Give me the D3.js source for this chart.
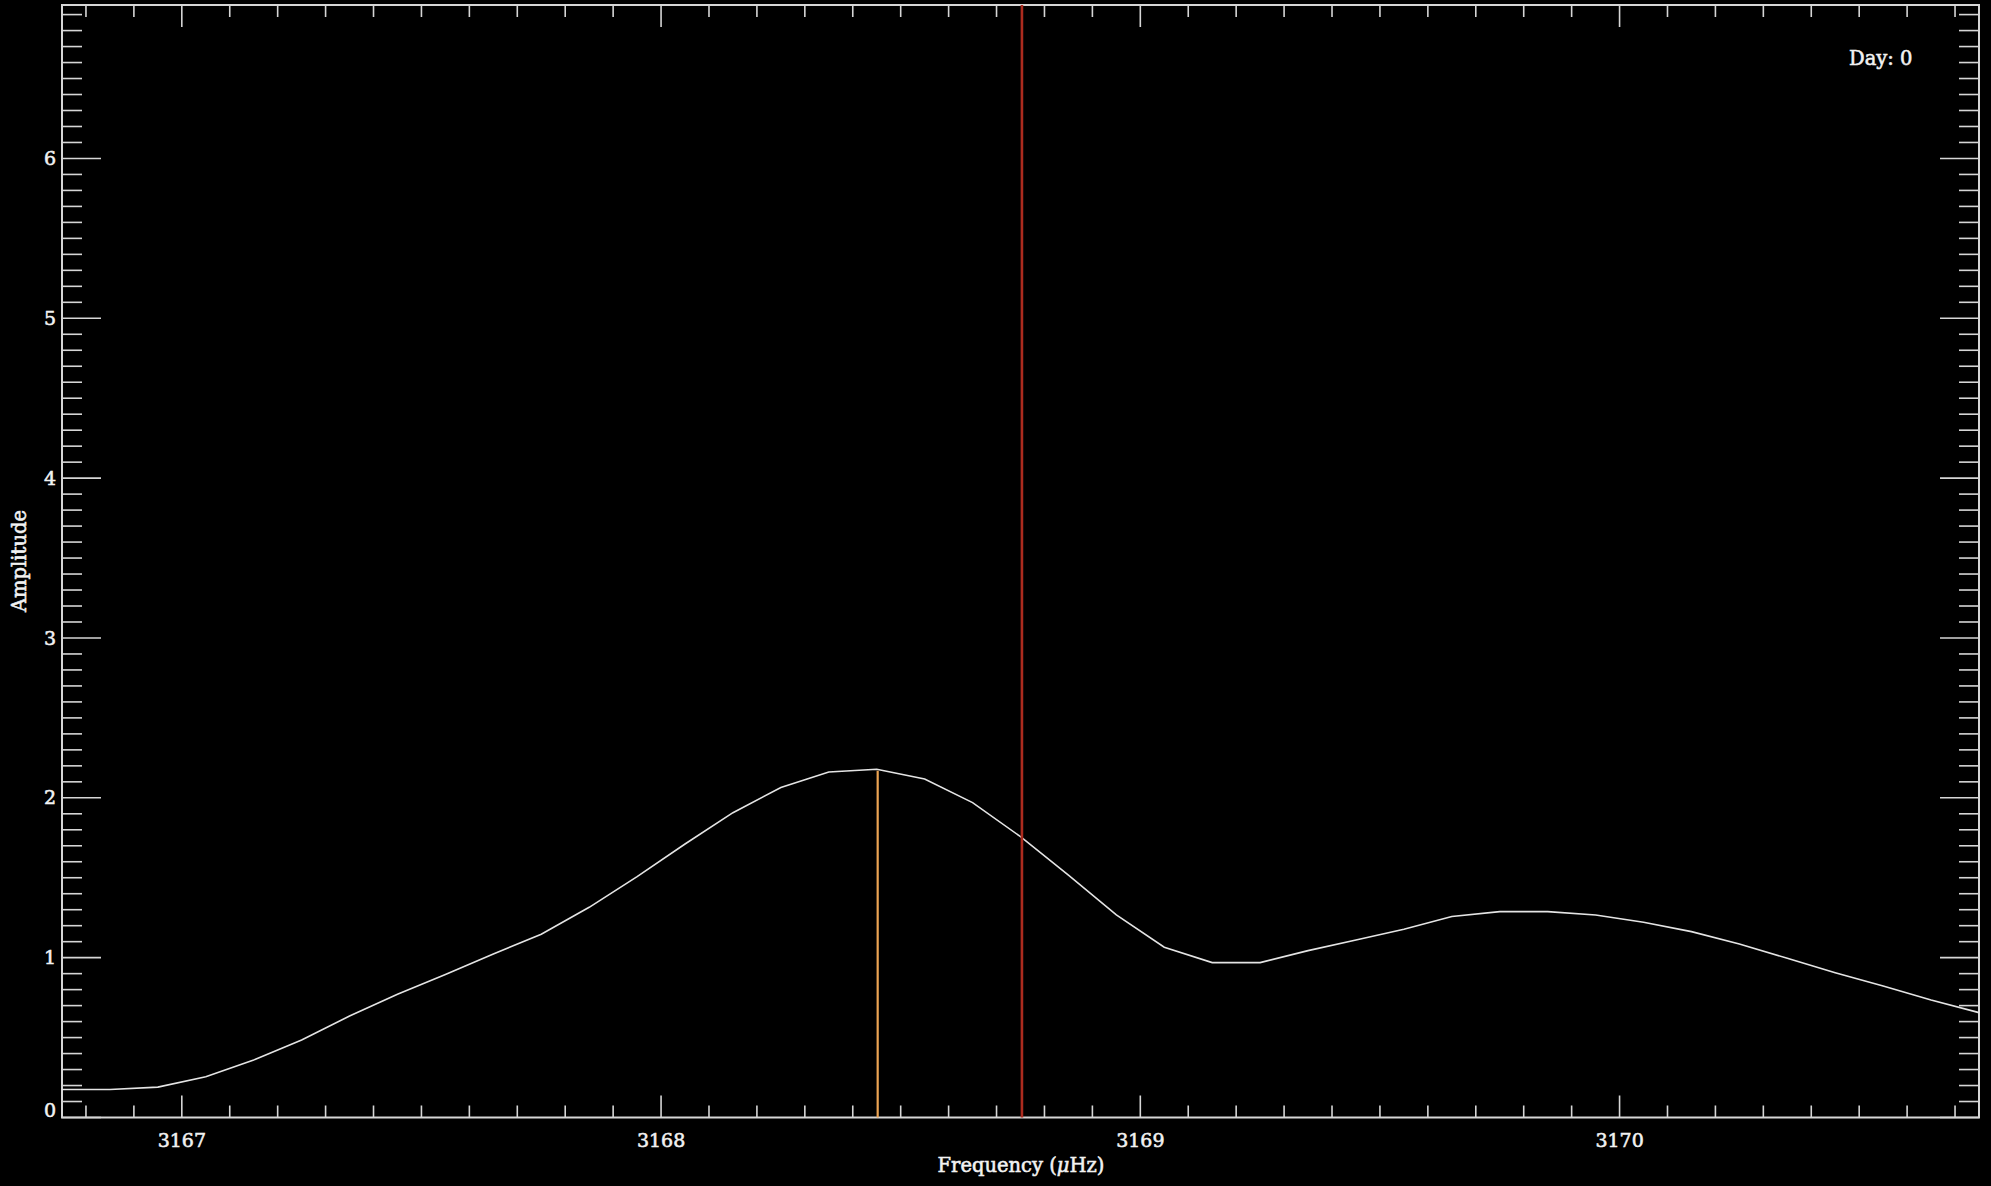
<!DOCTYPE html>
<html>
<head>
<meta charset="utf-8">
<script src="https://cdn.jsdelivr.net/npm/d3@7"></script>
<style>
  html, body { margin: 0; padding: 0; background: #000; }
  svg text { fill: #f2f2f2; stroke: #f2f2f2; stroke-width: 0.55px; font-family: "DejaVu Serif", "Liberation Serif", serif; font-size: 19px; }
</style>
</head>
<body>
<div id="chart"></div>
<script>
// 频谱数据 (frequency in µHz, amplitude)
const freqs = [3166.75, 3166.85, 3166.95, 3167.05, 3167.15, 3167.25, 3167.35, 3167.45, 3167.55, 3167.65,
               3167.75, 3167.85, 3167.95, 3168.05, 3168.15, 3168.25, 3168.35, 3168.45, 3168.55, 3168.65,
               3168.75, 3168.85, 3168.95, 3169.05, 3169.15, 3169.25, 3169.35, 3169.45, 3169.55, 3169.65,
               3169.75, 3169.85, 3169.95, 3170.05, 3170.15, 3170.25, 3170.35, 3170.45, 3170.55, 3170.65,
               3170.75];
const amps = [0.175, 0.175, 0.19, 0.255, 0.36, 0.485, 0.635, 0.771, 0.894, 1.023,
              1.146, 1.315, 1.507, 1.711, 1.907, 2.064, 2.162, 2.179, 2.118, 1.97,
              1.757, 1.517, 1.267, 1.065, 0.969, 0.969, 1.044, 1.111, 1.178, 1.257,
              1.288, 1.288, 1.267, 1.221, 1.163, 1.086, 0.996, 0.906, 0.823, 0.735,
              0.656];

// 两条竖线：橙色（峰值处）和红色
const peakFreq = 3168.452;
const peakAmp = 2.17;
const refFreq = 3168.753;

const xDomain = [3166.75, 3170.75];
const yDomain = [0, 6.96];
const xTickLabels = [3167, 3168, 3169, 3170];
const yTickLabels = [0, 1, 2, 3, 4, 5, 6];
const dayLabel = "Day: 0";

const W = 1991, H = 1186;
const mLeft = 62, mRight = 1979, mTop = 5, mBottom = 1117.5;

let svg = d3.select("#chart").append("svg")
    .attr("width", W)
    .attr("height", H)
    .style("background", "#000");

let x = d3.scaleLinear().domain(xDomain).range([mLeft, mRight]);
let y = d3.scaleLinear().domain(yDomain).range([mBottom, mTop]);

const axisColor = "#d6d6d6";

// 次刻度 & 主刻度
let xMinor = x.ticks(40);
let yMinor = y.ticks(70);

let ticks = svg.append("g").attr("stroke", axisColor).attr("stroke-width", 1.6);

xMinor.forEach(function (v) {
    let major = Math.abs(v - Math.round(v)) < 1e-6;
    let len = major ? 22 : 12;
    ticks.append("line").attr("x1", x(v)).attr("x2", x(v)).attr("y1", mBottom).attr("y2", mBottom - len);
    ticks.append("line").attr("x1", x(v)).attr("x2", x(v)).attr("y1", mTop).attr("y2", mTop + len);
});

yMinor.forEach(function (v) {
    let major = Math.abs(v - Math.round(v)) < 1e-6;
    let len = major ? 39 : 20;
    ticks.append("line").attr("y1", y(v)).attr("y2", y(v)).attr("x1", mLeft).attr("x2", mLeft + len);
    ticks.append("line").attr("y1", y(v)).attr("y2", y(v)).attr("x1", mRight).attr("x2", mRight - len);
});

// 边框
svg.append("rect")
    .attr("x", mLeft).attr("y", mTop)
    .attr("width", mRight - mLeft).attr("height", mBottom - mTop)
    .attr("fill", "none")
    .attr("stroke", axisColor)
    .attr("stroke-width", 2);

// 刻度标签
svg.selectAll(".xlab").data(xTickLabels).enter().append("text")
    .attr("class", "xlab")
    .attr("x", d => x(d))
    .attr("y", 1147)
    .attr("text-anchor", "middle")
    .text(d => d);

// 0 的标签贴在底边上，其余居中
svg.selectAll(".ylab").data(yTickLabels).enter().append("text")
    .attr("class", "ylab")
    .attr("x", 56)
    .attr("y", d => y(d))
    .attr("dy", d => d === 0 ? "-0.05em" : "0.35em")
    .attr("text-anchor", "end")
    .text(d => d);

// 轴标题
let xt = svg.append("text")
    .attr("x", 1021)
    .attr("y", 1172)
    .attr("text-anchor", "middle")
    .style("font-size", "19.5px");
xt.append("tspan").text("Frequency (");
xt.append("tspan").attr("font-style", "italic").text("\u03bc");
xt.append("tspan").text("Hz)");

svg.append("text")
    .attr("transform", "translate(26,561) rotate(-90)")
    .attr("text-anchor", "middle")
    .style("font-size", "19.5px")
    .text("Amplitude");

svg.append("text")
    .attr("x", 1849)
    .attr("y", 65)
    .style("font-size", "19.5px")
    .text(dayLabel);

// 曲线
let line = d3.line()
    .x(function (d, i) { return x(freqs[i]); })
    .y(function (d) { return y(d); });

svg.append("path")
    .datum(amps)
    .attr("d", line)
    .attr("fill", "none")
    .attr("stroke", "#e4e4e4")
    .attr("stroke-width", 1.6);

// 竖线
svg.append("line")
    .attr("x1", x(peakFreq)).attr("x2", x(peakFreq))
    .attr("y1", y(0)).attr("y2", y(peakAmp))
    .attr("stroke", "#eba352")
    .attr("stroke-width", 2.2);

svg.append("line")
    .attr("x1", x(refFreq)).attr("x2", x(refFreq))
    .attr("y1", y(0)).attr("y2", y(yDomain[1]))
    .attr("stroke", "#ac2b1e")
    .attr("stroke-width", 2.6);
</script>
</body>
</html>
